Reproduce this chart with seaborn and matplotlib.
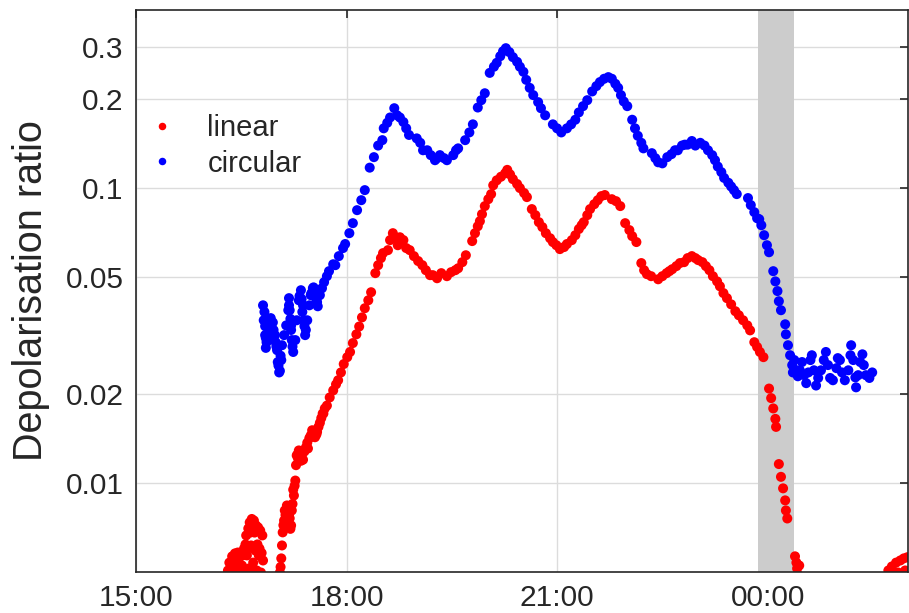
import matplotlib
matplotlib.use("Agg")
import matplotlib.pyplot as plt
import seaborn as sns
import pandas as pd
from matplotlib.ticker import NullLocator, FixedLocator

# ---- data (time in decimal hours after 00:00 of first day, ratio) ----
circ_time = [16.81, 16.82, 16.84, 16.85, 16.88, 16.91, 16.92, 16.95, 16.98, 17.01, 17.02, 17.04,
             17.07, 17.08, 17.11, 17.14, 17.17, 17.18, 17.19, 17.21, 17.22, 17.24, 17.27, 17.29,
             17.32, 17.35, 17.38, 17.39, 17.41, 17.44, 17.47, 17.49, 17.52, 17.55, 17.57, 17.59,
             17.62, 17.65, 17.68, 17.72, 17.75, 17.81, 17.84, 17.89, 17.95, 17.98, 18.04, 18.09,
             18.15, 18.21, 18.26, 18.33, 18.39, 18.45, 18.51, 18.53, 18.58, 18.62, 18.68, 18.72,
             18.76, 18.81, 18.85, 18.89, 19.00, 19.05, 19.09, 19.15, 19.20, 19.26, 19.29, 19.33,
             19.39, 19.43, 19.52, 19.56, 19.59, 19.69, 19.75, 19.80, 19.87, 19.92, 19.97, 20.04,
             20.10, 20.14, 20.19, 20.23, 20.27, 20.32, 20.37, 20.43, 20.47, 20.52, 20.56, 20.61,
             20.66, 20.73, 20.77, 20.83, 20.94, 21.00, 21.06, 21.14, 21.20, 21.26, 21.31, 21.37,
             21.43, 21.50, 21.56, 21.61, 21.67, 21.73, 21.78, 21.83, 21.87, 21.91, 21.95, 22.00,
             22.07, 22.11, 22.15, 22.20, 22.23, 22.35, 22.40, 22.44, 22.50, 22.57, 22.63, 22.68,
             22.72, 22.78, 22.82, 22.86, 22.92, 22.97, 23.04, 23.10, 23.15, 23.21, 23.25, 23.29,
             23.34, 23.38, 23.44, 23.48, 23.52, 23.56, 23.72, 23.76, 23.81, 23.85, 23.88, 23.91,
             23.95, 23.99, 24.02, 24.08, 24.11, 24.14, 24.16, 24.19, 24.25, 24.26, 24.29, 24.32,
             24.35, 24.36, 24.38, 24.41, 24.43, 24.46, 24.49, 24.52, 24.55, 24.58, 24.61, 24.63,
             24.66, 24.69, 24.72, 24.76, 24.80, 24.83, 24.86, 24.89, 24.93, 24.98, 25.00, 25.03,
             25.06, 25.10, 25.15, 25.18, 25.19, 25.22, 25.25, 25.26, 25.29, 25.32, 25.35, 25.37,
             25.40, 25.45, 25.49,
             16.83, 16.84, 16.85, 16.86, 16.87, 16.96, 16.99, 17.00, 17.03, 17.05, 17.06,
             17.18, 17.20, 17.21, 17.23, 17.33, 17.36, 17.37, 17.40, 17.42, 17.50, 17.53,
             17.56, 17.58]
circ_ratio = [0.0400, 0.0356, 0.0317, 0.0287, 0.0305, 0.0329, 0.0362, 0.0350, 0.0317, 0.0282, 0.0257, 0.0237,
              0.0261, 0.0293, 0.0317, 0.0342, 0.0385, 0.0423, 0.0385, 0.0342, 0.0305, 0.0278, 0.0305, 0.0356,
              0.0416, 0.0450, 0.0400, 0.0356, 0.0317, 0.0356, 0.0400, 0.0433, 0.0457, 0.0450, 0.0416, 0.0397,
              0.0433, 0.0457, 0.0479, 0.0502, 0.0522, 0.0551, 0.0547, 0.0587, 0.0625, 0.0645, 0.0702, 0.0759,
              0.0840, 0.0908, 0.0982, 0.117, 0.127, 0.139, 0.145, 0.159, 0.166, 0.173, 0.186, 0.176,
              0.173, 0.167, 0.159, 0.151, 0.147, 0.142, 0.134, 0.134, 0.129, 0.124, 0.126, 0.129,
              0.126, 0.124, 0.129, 0.134, 0.136, 0.145, 0.154, 0.164, 0.187, 0.198, 0.209, 0.245,
              0.257, 0.265, 0.279, 0.290, 0.297, 0.288, 0.277, 0.267, 0.257, 0.247, 0.232, 0.218,
              0.206, 0.195, 0.186, 0.176, 0.164, 0.159, 0.154, 0.159, 0.164, 0.170, 0.180, 0.189,
              0.198, 0.212, 0.221, 0.228, 0.234, 0.237, 0.234, 0.225, 0.218, 0.206, 0.196, 0.189,
              0.170, 0.159, 0.150, 0.142, 0.136, 0.131, 0.126, 0.122, 0.121, 0.127, 0.130, 0.134,
              0.134, 0.139, 0.140, 0.140, 0.144, 0.139, 0.142, 0.139, 0.134, 0.129, 0.124, 0.118,
              0.113, 0.108, 0.104, 0.101, 0.0982, 0.0952, 0.0923, 0.0874, 0.0827, 0.0789, 0.0783, 0.0747,
              0.0691, 0.0639, 0.0605, 0.0522, 0.0482, 0.0447, 0.0413, 0.0385, 0.0345, 0.0319, 0.0293, 0.0271,
              0.0251, 0.0237, 0.0261, 0.0241, 0.0230, 0.0241, 0.0257, 0.0232, 0.0218, 0.0237, 0.0261, 0.0271,
              0.0241, 0.0214, 0.0227, 0.0241, 0.0261, 0.0278, 0.0251, 0.0227, 0.0223, 0.0245, 0.0265, 0.0261,
              0.0237, 0.0223, 0.0241, 0.0271, 0.0293, 0.0261, 0.0228, 0.0211, 0.0232, 0.0257, 0.0273, 0.0251,
              0.0232, 0.0227, 0.0237,
              0.0380, 0.0340, 0.0310, 0.0300, 0.0320, 0.0330, 0.0300, 0.0290, 0.0250, 0.0240, 0.0270,
              0.0400, 0.0360, 0.0330, 0.0290, 0.0430, 0.0420, 0.0380, 0.0340, 0.0330, 0.0440, 0.0460,
              0.0430, 0.0410]

lin_time = [16.31, 16.33, 16.34, 16.37, 16.38, 16.41, 16.43, 16.45, 16.47, 16.50, 16.51, 16.54,
            16.55, 16.57, 16.58, 16.60, 16.61, 16.62, 16.64, 16.65, 16.67, 16.68, 16.70, 16.71,
            16.72, 16.74, 16.75, 16.77, 16.78, 16.80, 16.81,
            17.05, 17.07, 17.08, 17.09, 17.11, 17.12, 17.15, 17.18, 17.21, 17.22, 17.25, 17.27,
            17.28, 17.29, 17.32, 17.35, 17.37, 17.38, 17.42, 17.47, 17.51, 17.58, 17.62, 17.66,
            17.69, 17.72, 17.76, 17.81, 17.85, 17.88, 17.92, 17.96, 18.01, 18.05, 18.09, 18.14,
            18.18, 18.22, 18.26, 18.31, 18.35, 18.41, 18.45, 18.49, 18.52, 18.59, 18.62, 18.66,
            18.71, 18.73, 18.76, 18.81, 18.85, 18.90, 18.96, 19.02, 19.08, 19.13, 19.19, 19.23,
            19.29, 19.35, 19.43, 19.49, 19.55, 19.59, 19.65, 19.70, 19.79, 19.83, 19.87, 19.90,
            19.93, 19.97, 20.02, 20.06, 20.09, 20.14, 20.20, 20.26, 20.29, 20.33, 20.37, 20.43,
            20.47, 20.53, 20.57, 20.64, 20.69, 20.74, 20.79, 20.84, 20.90, 20.94, 20.99, 21.04,
            21.10, 21.14, 21.21, 21.26, 21.31, 21.35, 21.38, 21.43, 21.47, 21.53, 21.58, 21.63,
            21.68, 21.78, 21.84, 21.90, 21.97, 22.03, 22.07, 22.13, 22.20, 22.24, 22.28, 22.34,
            22.44, 22.50, 22.56, 22.60, 22.64, 22.70, 22.75, 22.81, 22.86, 22.92, 22.97, 23.01,
            23.07, 23.12, 23.17, 23.22, 23.28, 23.32, 23.37, 23.42, 23.48, 23.54, 23.59, 23.65,
            23.71, 23.75, 23.81, 23.85, 23.89, 23.94, 24.02, 24.05, 24.08, 24.11, 24.12, 24.16,
            24.19, 24.22, 24.25, 24.26, 24.28, 24.39, 24.41, 24.42, 24.43, 24.45,
            25.72, 25.75, 25.77, 25.83, 25.86, 25.89, 25.94, 25.96, 25.99,
            16.35, 16.39, 16.42, 16.46, 16.49, 16.53, 16.56, 16.59, 16.63, 16.66, 16.69, 16.73,
            16.76, 16.79,
            17.06, 17.10, 17.13, 17.16, 17.17, 17.19, 17.20, 17.23, 17.24, 17.26, 17.30, 17.31,
            17.34, 17.36, 17.40, 17.44, 17.45, 17.49, 17.53, 17.55, 17.57, 17.60, 17.64, 17.67]
lin_ratio = [0.00506, 0.00538, 0.00498, 0.00565, 0.00514, 0.00578, 0.00522, 0.00582, 0.00506, 0.00582, 0.00526, 0.00601,
             0.00506, 0.00665, 0.00569, 0.00702, 0.00514, 0.00736, 0.00615, 0.00756, 0.00538, 0.00747, 0.00591, 0.00719,
             0.00506, 0.00708, 0.00569, 0.00691, 0.00498, 0.00665, 0.00547,
             0.00498, 0.00556, 0.00615, 0.00681, 0.00747, 0.00808, 0.00840, 0.00777, 0.00719, 0.00808, 0.00908, 0.0102,
             0.0115, 0.0124, 0.0129, 0.0119, 0.0127, 0.0120, 0.0132, 0.0142, 0.0151, 0.0149, 0.0160, 0.0172,
             0.0179, 0.0183, 0.0195, 0.0206, 0.0216, 0.0223, 0.0237, 0.0253, 0.0267, 0.0278, 0.0298, 0.0319,
             0.0339, 0.0364, 0.0391, 0.0416, 0.0443, 0.0514, 0.0547, 0.0578, 0.0601, 0.0615, 0.0665, 0.0702,
             0.0676, 0.0639, 0.0680, 0.0665, 0.0625, 0.0615, 0.0587, 0.0565, 0.0547, 0.0526, 0.0506, 0.0506,
             0.0494, 0.0514, 0.0502, 0.0518, 0.0526, 0.0534, 0.0560, 0.0591, 0.0660, 0.0702, 0.0741, 0.0771,
             0.0814, 0.0867, 0.0915, 0.0952, 0.102, 0.106, 0.109, 0.112, 0.115, 0.111, 0.107, 0.103,
             0.0998, 0.0960, 0.0930, 0.0847, 0.0808, 0.0765, 0.0736, 0.0702, 0.0675, 0.0655, 0.0639, 0.0620,
             0.0630, 0.0645, 0.0665, 0.0691, 0.0725, 0.0747, 0.0765, 0.0808, 0.0847, 0.0880, 0.0908, 0.0937,
             0.0945, 0.0915, 0.0901, 0.0867, 0.0759, 0.0719, 0.0686, 0.0655, 0.0556, 0.0526, 0.0510, 0.0502,
             0.0490, 0.0502, 0.0514, 0.0522, 0.0530, 0.0543, 0.0556, 0.0560, 0.0578, 0.0587, 0.0578, 0.0569,
             0.0560, 0.0543, 0.0526, 0.0502, 0.0482, 0.0464, 0.0440, 0.0423, 0.0403, 0.0382, 0.0370, 0.0356,
             0.0342, 0.0329, 0.0300, 0.0289, 0.0278, 0.0267, 0.0209, 0.0194, 0.0179, 0.0165, 0.0155, 0.0116,
             0.0105, 0.00960, 0.00874, 0.00808, 0.00759, 0.00565, 0.00538, 0.00514, 0.00490, 0.00526,
             0.00506, 0.00498, 0.00522, 0.00538, 0.00498, 0.00547, 0.00556, 0.00506, 0.00561,
             0.00530, 0.00560, 0.00550, 0.00550, 0.00520, 0.00570, 0.00620, 0.00600, 0.00680, 0.00700, 0.00680, 0.00620,
             0.00600, 0.00580,
             0.00520, 0.00720, 0.00780, 0.00800, 0.00720, 0.00760, 0.00700, 0.00850, 0.00950, 0.00980, 0.0125, 0.0121,
             0.0126, 0.0124, 0.0128, 0.0137, 0.0131, 0.0145, 0.0150, 0.0143, 0.0146, 0.0155, 0.0166, 0.0172]

series_names = ["linear", "circular"]
series_colors = ["#ff0000", "#0000ff"]
x_ticks = [15, 18, 21, 24]
x_ticklabels = ["15:00", "18:00", "21:00", "00:00"]
y_ticks = [0.01, 0.02, 0.05, 0.1, 0.2, 0.3]
y_ticklabels = ["0.01", "0.02", "0.05", "0.1", "0.2", "0.3"]
gap_start, gap_end = 23.865, 24.377
y_label = "Depolarisation ratio"

df = pd.DataFrame({
    "time": lin_time + circ_time,
    "ratio": lin_ratio + circ_ratio,
    "type": ["linear"] * len(lin_time) + ["circular"] * len(circ_time),
})

sns.set_theme(style="white")
plt.rcParams["font.family"] = ["Liberation Sans", "DejaVu Sans"]

fig = plt.figure(figsize=(9.09, 6.13), dpi=100)
ax = fig.add_axes([136 / 909, 1 - 572 / 613, 772 / 909, 562 / 613])

ax.axvspan(gap_start, gap_end, color="#cccccc", lw=0, zorder=1)
sns.scatterplot(data=df, x="time", y="ratio", hue="type", hue_order=series_names,
                palette=dict(zip(series_names, series_colors)), s=52, linewidth=0,
                ax=ax, zorder=2, legend=True)

ax.set_yscale("log")
ax.set_xlim(15, 26)
ax.set_ylim(0.005, 0.4)
ax.xaxis.set_major_locator(FixedLocator(x_ticks))
ax.set_xticklabels(x_ticklabels)
ax.yaxis.set_major_locator(FixedLocator(y_ticks))
ax.set_yticklabels(y_ticklabels)
ax.yaxis.set_minor_locator(NullLocator())
ax.xaxis.set_minor_locator(NullLocator())

ax.grid(True, color="#dcdcdc", lw=1.0)
ax.set_axisbelow(True)
for sp in ax.spines.values():
    sp.set_color("#262626")
    sp.set_linewidth(1.2)
    sp.set_zorder(5)
ax.tick_params(axis="both", which="major", direction="in", length=6, width=1.2,
               color="#262626", labelcolor="#262626", labelsize=21.5,
               top=True, right=True, pad=9)
ax.set_xlabel("")
ax.set_ylabel(y_label, fontsize=28.5, color="#262626")
ax.yaxis.set_label_coords(-0.111, 0.5)

leg = ax.legend(loc="center left", bbox_to_anchor=(0.015, 0.758), frameon=False,
                fontsize=21, handlelength=1.0, handletextpad=1.05, labelspacing=0.25,
                borderaxespad=0, borderpad=0, markerscale=0.75)
for t in leg.get_texts():
    t.set_color("#262626")

fig.savefig("out.png", dpi=100)
